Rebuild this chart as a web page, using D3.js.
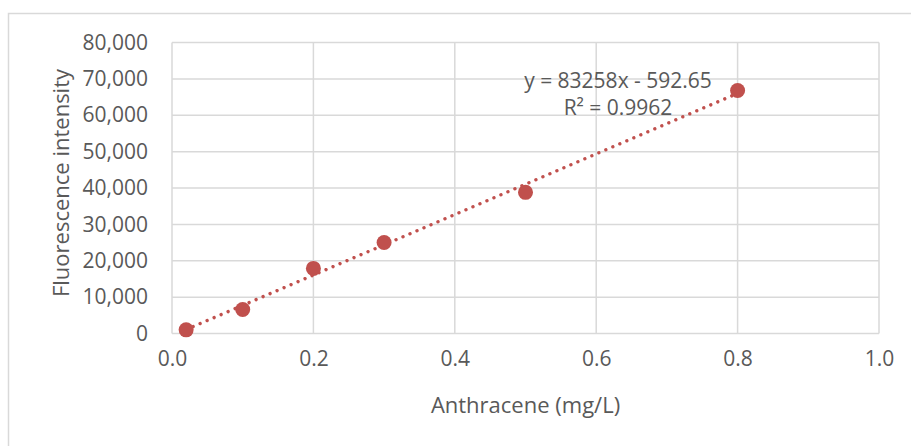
<!DOCTYPE html>
<html>
<head>
<meta charset="utf-8">
<script src="https://cdn.jsdelivr.net/npm/d3@7/dist/d3.min.js"></script>
<style>
  html, body { margin: 0; padding: 0; background: #fff; }
  svg { display: block; }
  text { font-family: "Open Sans", "Liberation Sans", sans-serif; fill: #595959; }
</style>
</head>
<body>
<svg id="chart" width="911" height="446"></svg>
<script>
// Calibration standards: anthracene concentration vs. fluorescence signal
const concentration = [0.02, 0.1, 0.2, 0.3, 0.5, 0.8];
const intensity = [1000, 6600, 17900, 25000, 38800, 66800];

// Linear trendline as reported on the chart
const slope = 83258;
const intercept = -592.65;
const rSquared = 0.9962;

const xTicks = [0, 0.2, 0.4, 0.6, 0.8, 1.0];
const yTicks = [0, 10000, 20000, 30000, 40000, 50000, 60000, 70000, 80000];

const xTitle = "Anthracene (mg/L)";
const yTitle = "Fluorescence intensity";

const svg = d3.select("#chart");
const W = 911, H = 446;
const plot = { left: 172, right: 879, top: 42.5, bottom: 333.5 };
const markColor = "#c0504d";
const gridColor = "#d9d9d9";

// outer chart frame
svg.append("rect")
  .attr("x", 8.5).attr("y", 13.5)
  .attr("width", W + 10).attr("height", H + 10)
  .attr("fill", "#fff").attr("stroke", gridColor).attr("stroke-width", 1.5);

const x = d3.scaleLinear().domain([0, 1]).range([plot.left, plot.right]);
const y = d3.scaleLinear().domain([0, 80000]).range([plot.bottom, plot.top]);

// gridlines
const grid = svg.append("g").attr("stroke", gridColor).attr("stroke-width", 1.5);
grid.selectAll(".h").data(yTicks).join("line")
  .attr("x1", plot.left).attr("x2", plot.right)
  .attr("y1", d => y(d)).attr("y2", d => y(d));
grid.selectAll(".v").data(xTicks).join("line")
  .attr("y1", plot.top).attr("y2", plot.bottom)
  .attr("x1", d => x(d)).attr("x2", d => x(d));

// tick labels via axes (lines hidden)
const fmtY = d3.format(",");
const yAxis = svg.append("g")
  .attr("transform", `translate(${plot.left},0)`)
  .call(d3.axisLeft(y).tickValues(yTicks).tickFormat(fmtY).tickSize(0).tickPadding(24));
yAxis.select(".domain").remove();
yAxis.selectAll("text").attr("font-size", 21).style("fill", "#595959")
  .attr("font-family", "'Open Sans', sans-serif");

const xAxis = svg.append("g")
  .attr("transform", `translate(0,${plot.bottom})`)
  .call(d3.axisBottom(x).tickValues(xTicks).tickFormat(d3.format(".1f")).tickSize(0).tickPadding(18));
xAxis.select(".domain").remove();
xAxis.selectAll("text").attr("font-size", 21).style("fill", "#595959")
  .attr("font-family", "'Open Sans', sans-serif");

// axis titles
svg.append("text")
  .attr("x", (plot.left + plot.right) / 2).attr("y", 413)
  .attr("text-anchor", "middle").attr("font-size", 22)
  .text(xTitle);
svg.append("text")
  .attr("transform", `translate(69,${(plot.top + plot.bottom) / 2 - 5}) rotate(-90)`)
  .attr("text-anchor", "middle").attr("font-size", 22)
  .text(yTitle);

// dotted linear trendline across the data range
const xMin = d3.min(concentration), xMax = d3.max(concentration);
svg.append("line")
  .attr("x1", x(xMin)).attr("y1", y(slope * xMin + intercept))
  .attr("x2", x(xMax)).attr("y2", y(slope * xMax + intercept))
  .attr("stroke", markColor).attr("stroke-width", 3.4)
  .attr("stroke-linecap", "round").attr("stroke-dasharray", "0.01 7.6");

// data markers
svg.selectAll(".pt").data(concentration).join("circle")
  .attr("cx", d => x(d))
  .attr("cy", (d, i) => y(intensity[i]))
  .attr("r", 7.5)
  .attr("fill", markColor);

// trendline equation label
const eq = svg.append("text").attr("text-anchor", "middle").attr("font-size", 21);
const sign = intercept < 0 ? " - " : " + ";
eq.append("tspan").attr("x", 618).attr("y", 88)
  .text(`y = ${slope}x${sign}${Math.abs(intercept)}`);
eq.append("tspan").attr("x", 618).attr("y", 115)
  .text(`R² = ${rSquared}`);
</script>
</body>
</html>
